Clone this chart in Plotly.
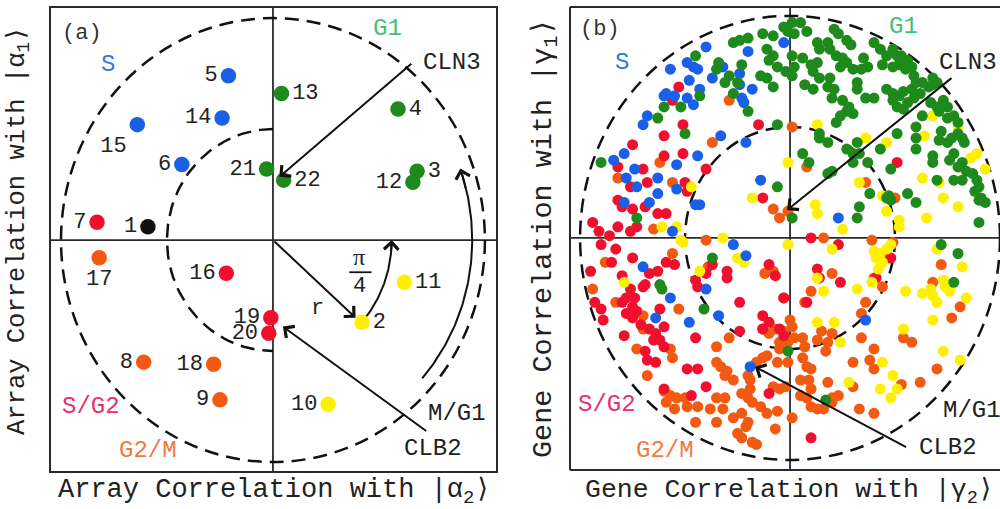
import numpy as np
import plotly.graph_objects as go

MONO = "Liberation Mono, Courier New, monospace"

# ---------------- Panel (a): 22 arrays ----------------
a_labels = [str(i) for i in range(1, 23)]
a_x = [-0.59, 0.42, 0.68, 0.59, -0.21, -0.43, -0.83, -0.61, -0.25, 0.26, 0.62,
       0.66, 0.04, -0.24, -0.64, -0.22, -0.82, -0.28, -0.01, -0.02, -0.03, 0.05]
a_y = [0.06, -0.37, 0.31, 0.59, 0.74, 0.34, 0.08, -0.55, -0.72, -0.74, -0.19,
       0.26, 0.66, 0.55, 0.52, -0.15, -0.08, -0.56, -0.35, -0.42, 0.32, 0.27]
a_phase = ["none", "M/G1", "G1", "G1", "S", "S", "S/G2", "G2/M", "G2/M", "M/G1", "M/G1",
           "G1", "G1", "S", "S", "S/G2", "G2/M", "G2/M", "S/G2", "S/G2", "G1", "G1"]
a_textpos = ["middle left", "middle right", "middle right", "middle right", "middle left",
             "middle left", "middle left", "middle left", "middle left", "middle left",
             "middle right", "middle left", "middle right", "middle left", "bottom left",
             "middle left", "bottom center", "middle left", "middle left", "middle left",
             "middle left", "middle right"]

# ---------------- Panel (b): genes, (x, y) per phase ----------------
b_S = [(-0.40, 0.86), (-0.49, 0.79), (-0.46, 0.77), (-0.44, 0.76), (-0.57, 0.76), (-0.48, 0.71),
       (-0.37, 0.72), (-0.32, 0.77), (-0.20, 0.84), (-0.24, 0.74), (-0.24, 0.69), (-0.18, 0.67),
       (-0.23, 0.63), (-0.22, 0.61), (-0.60, 0.64), (-0.59, 0.65), (-0.55, 0.64), (-0.49, 0.63),
       (-0.46, 0.60), (-0.43, 0.67), (-0.68, 0.55), (-0.70, 0.51), (-0.33, 0.46), (-0.21, 0.43),
       (-0.44, 0.37), (-0.54, 0.33), (-0.84, 0.35), (-0.79, 0.38), (-0.74, 0.31), (-0.78, 0.27),
       (-0.63, 0.27), (-0.73, 0.23), (-0.63, 0.20), (-0.67, 0.16), (-0.79, 0.16), (-0.54, 0.22),
       (-0.14, 0.26), (-0.45, 0.15), (-0.43, 0.15), (-0.56, 0.03), (-0.27, -0.03), (-0.70, -0.13),
       (-0.57, -0.27), (-0.64, -0.36), (-0.48, -0.38), (-0.40, -0.23), (-0.34, -0.35), (-0.21, -0.08),
       (-0.19, -0.58), (0.36, -0.37), (0.23, 0.09), (-0.03, 0.88)]

b_G1 = [(-0.45, 0.82), (-0.34, 0.79), (-0.35, 0.76), (-0.27, 0.88), (-0.24, 0.89), (-0.20, 0.90),
        (-0.13, 0.92), (-0.08, 0.91), (-0.11, 0.85), (-0.10, 0.80), (-0.08, 0.82), (-0.06, 0.77),
        (-0.23, 0.78), (-0.29, 0.73), (-0.31, 0.70), (-0.25, 0.70), (-0.11, 0.72), (-0.14, 0.73),
        (-0.08, 0.68), (-0.27, 0.65), (-0.20, 0.57), (-0.60, 0.59), (-0.63, 0.54), (-0.52, 0.59),
        (-0.50, 0.47), (-0.43, 0.64), (-0.90, 0.34), (-0.73, 0.09), (-0.06, 0.23), (-0.62, -0.21),
        (-0.61, -0.23), (-0.37, -0.09), (-0.41, -0.32), (-0.01, -0.51), (0.17, -0.73), (0.01, 0.09),
        (-0.06, 0.51), (0.22, 0.52), (0.14, 0.47), (0.18, 0.43), (0.27, 0.40), (0.30, 0.38),
        (0.06, 0.38), (0.09, 0.34), (0.18, 0.29), (0.20, 0.30), (0.30, 0.34), (0.38, 0.20),
        (0.46, 0.18), (0.33, 0.14), (0.32, 0.09), (0.72, -0.03), (0.80, -0.07), (0.78, -0.20),
        (0.01, 0.97), (0.05, 0.97), (0.08, 0.93), (0.02, 0.92), (-0.01, 0.93), (-0.03, 0.95),
        (0.21, 0.94), (0.23, 0.92), (0.13, 0.88), (0.14, 0.85), (0.18, 0.88), (0.19, 0.85),
        (0.27, 0.89), (0.29, 0.87), (0.06, 0.81), (0.10, 0.78), (0.13, 0.79), (0.22, 0.82),
        (0.25, 0.81), (0.27, 0.79), (0.24, 0.77), (0.30, 0.76), (0.35, 0.81), (0.37, 0.77),
        (0.34, 0.76), (0.40, 0.88), (0.43, 0.85), (0.44, 0.78), (0.46, 0.82), (0.49, 0.85),
        (0.51, 0.82), (0.53, 0.82), (0.49, 0.77), (0.52, 0.78), (0.56, 0.80), (0.55, 0.76),
        (0.58, 0.77), (0.59, 0.73), (0.01, 0.82), (0.02, 0.77), (-0.02, 0.75), (0.01, 0.73),
        (0.11, 0.75), (0.14, 0.72), (0.19, 0.72), (0.18, 0.68), (0.21, 0.67), (0.20, 0.63),
        (0.07, 0.69), (0.11, 0.67), (0.32, 0.70), (0.32, 0.67), (0.25, 0.62), (0.28, 0.59),
        (0.30, 0.56), (0.27, 0.57), (0.24, 0.55), (0.36, 0.63), (0.40, 0.63), (0.46, 0.67),
        (0.49, 0.65), (0.49, 0.62), (0.52, 0.64), (0.54, 0.66), (0.51, 0.59), (0.54, 0.58),
        (0.56, 0.61), (0.59, 0.63), (0.58, 0.67), (0.62, 0.65), (0.60, 0.70), (0.63, 0.70),
        (0.66, 0.68), (0.68, 0.69), (0.68, 0.72), (0.70, 0.70), (0.67, 0.61), (0.70, 0.59),
        (0.73, 0.62), (0.71, 0.57), (0.75, 0.59), (0.78, 0.55), (0.75, 0.54), (0.80, 0.52),
        (0.63, 0.55), (0.60, 0.50), (0.60, 0.45), (0.72, 0.48), (0.71, 0.44), (0.75, 0.43),
        (0.77, 0.45), (0.80, 0.47), (0.82, 0.45), (0.83, 0.43), (0.78, 0.38), (0.76, 0.35),
        (0.80, 0.32), (0.82, 0.34), (0.84, 0.30), (0.68, 0.37), (0.68, 0.34), (0.89, 0.26),
        (0.90, 0.23), (0.91, 0.18), (0.93, 0.16), (0.90, 0.17), (0.88, 0.21), (0.82, 0.26),
        (0.87, 0.29), (0.78, 0.26), (0.70, 0.26), (0.60, 0.40), (0.48, 0.31), (0.51, 0.47),
        (0.43, 0.40), (0.32, 0.43), (0.33, 0.38), (0.37, 0.34), (0.47, 0.19), (0.48, 0.17),
        (0.56, 0.20), (0.60, 0.16), (0.90, 0.07), (0.14, 0.45)]

b_SG2 = [(-0.53, 0.68), (-0.56, 0.62), (-0.51, 0.51), (-0.60, 0.46), (-0.60, 0.37), (-0.51, 0.38),
         (-0.75, 0.42), (-0.82, 0.32), (-0.70, 0.31), (-0.68, 0.25), (-0.76, 0.23), (-0.50, 0.25),
         (-0.49, 0.21), (-0.40, 0.31), (-0.15, 0.51), (-0.82, 0.17), (-0.80, 0.14), (-0.75, 0.13),
         (-0.69, 0.14), (-0.63, 0.11), (-0.59, 0.11), (-0.94, 0.07), (-0.91, 0.03), (-0.86, 0.01),
         (-0.82, 0.05), (-0.76, 0.03), (-0.73, 0.05), (-0.13, 0.18), (-0.90, -0.03), (-0.83, -0.05),
         (-0.75, -0.09), (-0.85, -0.11), (-0.95, -0.15), (-0.80, -0.17), (-0.67, -0.16), (-0.63, -0.15),
         (-0.59, -0.11), (-0.55, -0.12), (-0.69, -0.21), (-0.76, -0.23), (-0.78, -0.27), (-0.74, -0.27),
         (-0.70, -0.22), (-0.93, -0.29), (-0.90, -0.32), (-0.89, -0.37), (-0.75, -0.31), (-0.73, -0.33),
         (-0.80, -0.29), (-0.62, -0.32), (-0.78, -0.34), (-0.75, -0.36), (-0.71, -0.39), (-0.79, -0.44),
         (-0.67, -0.41), (-0.64, -0.43), (-0.65, -0.46), (-0.62, -0.46), (-0.60, -0.49), (-0.60, -0.40),
         (-0.69, -0.51), (-0.68, -0.55), (-0.64, -0.56), (-0.49, -0.59), (-0.44, -0.59), (-0.45, -0.45),
         (-0.40, -0.67), (-0.24, -0.29), (-0.24, -0.42), (-0.13, -0.35), (-0.13, -0.41), (-0.03, -0.27),
         (-0.10, -0.70), (-0.60, -0.68), (0.10, -0.90), (-0.47, -0.71), (-0.10, -0.38), (-0.10, -0.12),
         (-0.30, -0.15), (-0.40, -0.16), (-0.37, -0.12), (-0.30, -0.18), (-0.07, -0.17), (-0.45, -0.19),
         (-0.44, -0.22), (0.08, -0.29), (-0.05, -0.41), (-0.03, -0.44), (0.13, -0.14), (0.14, -0.18),
         (0.24, -0.20), (0.41, -0.18), (0.48, -0.09), (0.51, 0.34), (0.10, 0.00), (0.23, -0.03)]

b_G2M = [(-0.29, 0.62), (-0.37, 0.43), (-0.62, 0.34), (-0.82, 0.27), (-0.56, 0.25), (-0.65, 0.04),
         (-0.40, -0.01), (-0.08, 0.13), (-0.05, 0.09), (-0.01, 0.12), (0.01, 0.50), (0.08, 0.32),
         (0.36, 0.25), (0.50, 0.18), (0.16, 0.00), (0.39, -0.01), (-0.12, -0.16), (-0.03, -0.27),
         (-0.29, -0.45), (-0.13, -0.41), (-0.10, -0.43), (0.00, -0.37), (-0.01, -0.47), (0.02, -0.45),
         (-0.05, -0.50), (0.20, -0.16), (0.10, -0.24), (0.07, -0.29), (0.40, -0.18), (0.44, -0.22),
         (0.20, -0.43), (0.36, -0.29), (0.34, -0.45), (0.13, -0.46), (0.18, -0.47), (0.40, -0.50),
         (0.49, -0.02), (0.47, -0.09), (-0.56, -0.07), (-0.94, -0.23), (-0.83, -0.29), (-0.70, -0.35),
         (-0.53, -0.32), (-0.70, -0.41), (-0.73, -0.50), (-0.56, -0.54), (-0.68, -0.62), (-0.60, -0.69),
         (-0.57, -0.71), (-0.54, -0.72), (-0.59, -0.74), (-0.55, -0.77), (-0.49, -0.76), (-0.44, -0.76),
         (-0.45, -0.83), (-0.35, -0.83), (-0.35, -0.56), (-0.33, -0.58), (-0.30, -0.60), (-0.35, -0.72),
         (-0.31, -0.72), (-0.27, -0.64), (-0.23, -0.70), (-0.20, -0.72), (-0.18, -0.74), (-0.23, -0.79),
         (-0.20, -0.83), (-0.25, -0.88), (-0.23, -0.90), (-0.18, -0.92), (-0.16, -0.93), (-0.14, -0.76),
         (-0.11, -0.79), (-0.35, -0.49), (-0.39, -0.13), (-0.08, -0.15), (-0.88, -0.11), (-0.57, -0.50),
         (-0.03, -0.42), (-0.05, -0.47), (-0.07, -0.41), (0.01, -0.40), (-0.31, -0.62), (-0.20, -0.62),
         (-0.19, -0.64), (-0.16, -0.56), (-0.13, -0.54), (-0.11, -0.53), (-0.06, -0.56), (-0.01, -0.56),
         (-0.08, -0.67), (-0.05, -0.68), (-0.02, -0.67), (-0.19, -0.68), (-0.32, -0.77), (-0.38, -0.77),
         (-0.50, -0.72), (-0.27, -0.81), (-0.21, -0.85), (-0.06, -0.78), (-0.07, -0.86), (0.01, -0.81),
         (0.05, -0.71), (0.08, -0.72), (0.09, -0.64), (0.10, -0.68), (0.05, -0.64), (0.13, -0.77),
         (0.20, -0.72), (0.18, -0.65), (0.06, -0.45), (0.07, -0.49), (0.06, -0.54), (0.08, -0.58),
         (0.10, -0.59), (0.15, -0.42), (0.17, -0.51), (0.34, -0.34), (0.30, -0.56), (0.38, -0.55),
         (0.40, -0.59), (0.30, -0.67), (0.23, -0.71), (0.53, -0.66), (0.33, -0.77), (0.40, -0.79),
         (0.20, -0.74), (0.16, -0.77), (0.10, -0.76), (0.54, -0.45), (0.58, -0.47), (0.62, -0.65),
         (0.70, -0.59), (0.68, -0.20), (0.72, -0.12), (0.81, -0.31), (0.77, -0.36)]

b_MG1 = [(-0.47, 0.23), (-0.18, 0.18), (-0.61, 0.05), (-0.54, 0.05), (-0.52, -0.01), (-0.32, 0.00),
         (-0.79, -0.20), (-0.25, -0.09), (-0.43, -0.15), (0.13, 0.51), (0.36, 0.45), (0.46, 0.43),
         (-0.01, 0.34), (0.33, 0.25), (0.44, 0.19), (0.46, 0.12), (0.12, 0.15), (0.13, 0.11),
         (0.25, 0.04), (0.20, -0.05), (-0.01, -0.03), (-0.51, -0.02), (-0.22, -0.11), (0.13, -0.18),
         (0.16, -0.24), (0.32, -0.23), (0.39, -0.20), (0.13, -0.38), (0.21, -0.38), (0.24, -0.47),
         (0.40, -0.06), (0.41, -0.09), (0.43, -0.07), (0.44, -0.11), (0.46, -0.05), (0.48, -0.03),
         (0.42, -0.14), (0.44, -0.56), (0.49, -0.62), (0.28, -0.65), (0.43, -0.68), (0.48, -0.72),
         (0.51, -0.68), (0.55, -0.24), (0.54, -0.41), (0.73, -0.51), (0.81, -0.55), (0.63, -0.25),
         (0.67, -0.23), (0.68, -0.26), (0.70, -0.29), (0.73, -0.19), (0.74, -0.22), (0.70, -0.05),
         (0.82, -0.13), (0.76, -0.24), (0.84, -0.27), (0.68, -0.37), (0.64, 0.46), (0.68, 0.55),
         (0.80, 0.50), (0.89, 0.38), (0.86, 0.36), (0.93, 0.31), (0.81, 0.32), (0.71, 0.25),
         (0.63, 0.27), (0.73, 0.18), (0.80, 0.14), (0.65, 0.09), (0.52, 0.08), (0.52, 0.05)]

phase_colors = {"G1": "#1f8a1c", "S": "#1a5fe8", "S/G2": "#f0102e", "G2/M": "#f25a12",
                "M/G1": "#fff000", "none": "#111111"}
label_colors = {"G1": "#3fbf7a", "S": "#2f7ce0", "S/G2": "#e8306e", "G2/M": "#f07a3a"}

fig = go.Figure()

DASH = "14px,8px"


def arc(r, t0, t1, n=80):
    t = np.radians(np.linspace(t0, t1, n))
    return r * np.cos(t), r * np.sin(t)


# inner half circle (a), dashed
hx, hy = arc(0.5, 90, 270)
fig.add_trace(go.Scatter(x=hx, y=hy, mode="lines", line=dict(color="#111", width=2.5, dash=DASH),
                         xaxis="x", yaxis="y", hoverinfo="skip", showlegend=False))
# solid arc at right (a)
rx, ry = arc(0.94, -41.5, 19)
fig.add_trace(go.Scatter(x=rx, y=ry, mode="lines", line=dict(color="#111", width=2),
                         xaxis="x", yaxis="y", hoverinfo="skip", showlegend=False))
# pi/4 arc (a)
px_, py_ = arc(0.56, -41.4, -2)
fig.add_trace(go.Scatter(x=px_, y=py_, mode="lines", line=dict(color="#111", width=2),
                         xaxis="x", yaxis="y", hoverinfo="skip", showlegend=False))

# panel (a) points
fig.add_trace(go.Scatter(
    x=a_x, y=a_y, mode="markers+text", text=a_labels, textposition=a_textpos,
    marker=dict(size=15.5, color=[phase_colors[p] for p in a_phase], line=dict(width=0)),
    textfont=dict(family=MONO, size=22, color="#222"),
    xaxis="x", yaxis="y", cliponaxis=False, hoverinfo="skip", showlegend=False))

# panel (b) points
for pts, ph in [(b_G2M, "G2/M"), (b_SG2, "S/G2"), (b_MG1, "M/G1"), (b_S, "S"), (b_G1, "G1")]:
    fig.add_trace(go.Scatter(
        x=[p[0] for p in pts], y=[p[1] for p in pts], mode="markers",
        marker=dict(size=11, color=phase_colors[ph], line=dict(width=0)),
        xaxis="x2", yaxis="y2", hoverinfo="skip", showlegend=False))

shapes = []
LC = "#2a2a2a"
# panel (a) frame
shapes.append(dict(type="rect", xref="x domain", yref="y domain", x0=0, x1=1, y0=0, y1=1,
                   line=dict(color=LC, width=2)))
shapes.append(dict(type="line", xref="x", yref="y domain", x0=0, x1=0, y0=0, y1=1,
                   line=dict(color=LC, width=1.8), layer="below"))
shapes.append(dict(type="line", xref="x domain", yref="y", x0=0, x1=1, y0=0, y1=0,
                   line=dict(color=LC, width=1.8), layer="below"))
shapes.append(dict(type="circle", xref="x", yref="y", x0=-1, x1=1, y0=-1, y1=1,
                   line=dict(color="#111", width=2.5, dash=DASH), layer="below"))
# pi/4 fraction bar
shapes.append(dict(type="line", xref="x", yref="y", x0=0.36, x1=0.465, y0=-0.145, y1=-0.145,
                   line=dict(color="#111", width=1.8)))
# panel (b) frame (right edge cut off by the page)
for (x0, x1, y0, y1) in [(0, 0, 0, 1), (0, 1, 1, 1), (0, 1, 0, 0)]:
    shapes.append(dict(type="line", xref="x2 domain", yref="y2 domain", x0=x0, x1=x1, y0=y0, y1=y1,
                       line=dict(color=LC, width=2)))
shapes.append(dict(type="line", xref="x2", yref="y2 domain", x0=0, x1=0, y0=0, y1=1,
                   line=dict(color=LC, width=1.8), layer="below"))
shapes.append(dict(type="line", xref="x2 domain", yref="y2", x0=0, x1=1, y0=0, y1=0,
                   line=dict(color=LC, width=1.8), layer="below"))
for r in (1, 0.5):
    shapes.append(dict(type="circle", xref="x2", yref="y2", x0=-r, x1=r, y0=-r, y1=r,
                       line=dict(color="#111", width=2.5, dash=DASH), layer="below"))

ann = []


def txt(x, y, s, ax="x", color="#222", size=24, family=MONO, xanchor="center", **kw):
    ann.append(dict(x=x, y=y, xref=ax, yref=ax.replace("x", "y"), text=s, showarrow=False,
                    xanchor=xanchor, yanchor="middle",
                    font=dict(family=family, size=size, color=color), **kw))


def arrow(x, y, tx, ty, ax="x"):
    ann.append(dict(x=x, y=y, ax=tx, ay=ty, xref=ax, yref=ax.replace("x", "y"),
                    axref=ax, ayref=ax.replace("x", "y"), text="", showarrow=True,
                    arrowhead=4, arrowsize=1.4, arrowwidth=2, arrowcolor="#111", standoff=0))


# panel (a) texts
txt(-0.90, 0.93, "(a)", color="#333", size=22)
txt(-0.78, 0.79, "S", color=label_colors["S"])
txt(0.54, 0.955, "G1", color=label_colors["G1"])
txt(0.845, 0.80, "CLN3")
txt(0.87, -0.78, "M/G1")
txt(0.755, -0.94, "CLB2")
txt(-0.86, -0.75, "S/G2", color=label_colors["S/G2"])
txt(-0.59, -0.95, "G2/M", color=label_colors["G2/M"])
txt(0.21, -0.31, "r", size=22)
txt(0.405, -0.075, "π", family="Liberation Serif, serif", size=24)
txt(0.41, -0.21, "4", size=22)
# panel (a) arrows
arrow(0.03, 0.285, 0.66, 0.80)
arrow(0.047, -0.39, 0.73, -0.865)
arrow(0.39, -0.35, 0.0, 0.0)
arrow(0.56, 0.0, 0.557, -0.06)
arrow(0.884, 0.322, 0.912, 0.227)

# panel (b) texts
txt(-0.905, 0.937, "(b)", ax="x2", color="#333", size=22)
txt(-0.80, 0.79, "S", ax="x2", color=label_colors["S"])
txt(0.54, 0.95, "G1", ax="x2", color=label_colors["G1"])
txt(0.995, 0.79, "CLN3", ax="x2", xanchor="right")
txt(0.72, -0.775, "M/G1", ax="x2", xanchor="left")
txt(0.75, -0.945, "CLB2", ax="x2")
txt(-0.87, -0.75, "S/G2", ax="x2", color=label_colors["S/G2"])
txt(-0.595, -0.955, "G2/M", ax="x2", color=label_colors["G2/M"])
arrow(-0.014, 0.126, 0.776, 0.725, ax="x2")
arrow(-0.167, -0.58, 0.56, -0.946, ax="x2")


# axis titles
def title(x, y, s, size, angle=0):
    ann.append(dict(x=x, y=y, xref="paper", yref="paper", showarrow=False, textangle=angle,
                    xanchor="center", yanchor="middle", text=s,
                    font=dict(family=MONO, size=size, color="#222")))


title(0.018, 1 - 231 / 509, "Array Correlation with |α<sub>1</sub>⟩", 25.5, -90)
title(0.274, 1 - 492 / 509, "Array Correlation with |α<sub>2</sub>⟩", 27)
title(0.545, 1 - 238 / 509, "Gene Correlation with |γ<sub>1</sub>⟩", 28.5, -90)
title(0.789, 1 - 492 / 509, "Gene Correlation with |γ<sub>2</sub>⟩", 26.5)

hid = dict(visible=False, showgrid=False, zeroline=False, fixedrange=True)
fig.update_layout(
    width=1000, height=509, margin=dict(l=0, r=0, t=0, b=0),
    paper_bgcolor="white", plot_bgcolor="white",
    xaxis=dict(domain=[0.050, 0.497], range=[-1.052, 1.057], **hid),
    yaxis=dict(domain=[1 - 472 / 509, 1 - 7 / 509], range=[-1.045, 1.05], **hid),
    xaxis2=dict(domain=[0.570, 1.0], range=[-1.048, 1.0], **hid),
    yaxis2=dict(domain=[1 - 470 / 509, 1 - 7 / 509], range=[-1.045, 1.04], **hid),
    shapes=shapes, annotations=ann, showlegend=False,
)

fig.write_html("out.html", config={"displayModeBar": False},
               post_script="document.body.style.margin='0px';document.body.style.padding='0px';"
                           "document.body.style.overflow='hidden';")
